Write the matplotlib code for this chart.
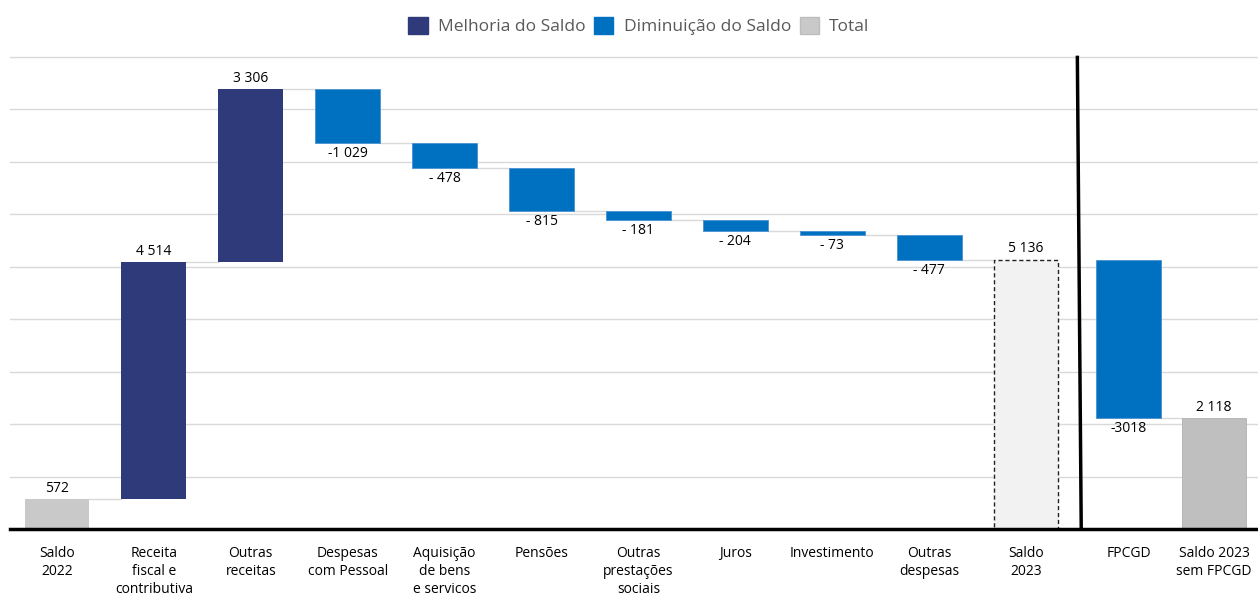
import numpy as np
import matplotlib.pyplot as plt
from matplotlib.patches import Patch

plt.rcParams['font.family'] = ['Open Sans', 'DejaVu Sans']

categories = ["Saldo\n2022", "Receita\nfiscal e\ncontributiva", "Outras\nreceitas",
              "Despesas\ncom Pessoal", "Aquisição\nde bens\ne servicos", "Pensões",
              "Outras\nprestações\nsociais", "Juros", "Investimento", "Outras\ndespesas",
              "Saldo\n2023", "FPCGD", "Saldo 2023\nsem FPCGD"]
values = [572, 4514, 3306, -1029, -478, -815, -181, -204, -73, -477, 5136, -3018, 2118]
kinds = ['total', 'inc', 'inc', 'dec', 'dec', 'dec', 'dec', 'dec', 'dec', 'dec',
         'total', 'dec', 'total']
value_labels = ["572", "4 514", "3 306", "-1 029", "- 478", "- 815", "- 181", "- 204",
                "- 73", "- 477", "5 136", "-3018", "2 118"]

# x positions (the last two sit a bit apart after the separator line)
xpos = list(np.arange(11)) + [11.06, 11.94]

navy = '#2e3a7a'
blue = '#0070c0'
gray = '#c9c9c9'

fig = plt.figure(figsize=(12.58, 5.99), dpi=100)
ax = fig.add_axes([10/1258, 1-529/599, 1-10/1258, (529-49)/599])

running = 0
prev_end = None
for i, (v, k) in enumerate(zip(values, kinds)):
    x = xpos[i]
    if k == 'total':
        bottom, h = 0, v
        running = v
    elif v >= 0:
        bottom, h = running, v
        running += v
    else:
        bottom, h = running + v, -v
        running += v

    if k == 'inc':
        ax.bar(x, h, bottom=bottom, width=0.67, color=navy, zorder=3)
    elif k == 'dec':
        ax.bar(x, h, bottom=bottom, width=0.67, color=blue, edgecolor='#4a90d0',
               linewidth=0.6, zorder=3)
    else:
        if i == 10:
            ax.bar(x, h, bottom=bottom, width=0.67, color='#f2f2f2', edgecolor='#222222',
                   linestyle=(0, (3, 2)), linewidth=1.0, zorder=3)
        elif i == 12:
            ax.bar(x, h, bottom=bottom, width=0.67, color='#bfbfbf', edgecolor='#b0b0b0',
                   linewidth=0.6, zorder=3)
        else:
            ax.bar(x, h, bottom=bottom, width=0.67, color=gray, zorder=3)

    # label
    if v >= 0:
        ax.text(x, bottom + h + 60, value_labels[i], ha='center', va='bottom', fontsize=10)
    else:
        ax.text(x, bottom - 60, value_labels[i], ha='center', va='top', fontsize=10)

    # connector from previous bar
    if prev_end is not None and i != 11:
        ax.plot([xpos[i-1] + 0.335, x - 0.335], [prev_end, prev_end],
                color='#d9d9d9', lw=1, zorder=2)
    prev_end = running

# gridlines
for g in range(1000, 10000, 1000):
    ax.axhline(g, color='#d9d9d9', lw=1, zorder=1)

# separator line
ax.plot([10.53, 10.57], [8990, 0], color='black', lw=2.5, zorder=4)

ax.set_xlim((10-57)/96.9, (1258-57)/96.9)
ax.set_ylim(0, 9150)
ax.set_yticks([])
for s in ['top', 'right', 'left']:
    ax.spines[s].set_visible(False)
ax.spines['bottom'].set_linewidth(2.5)
ax.spines['bottom'].set_zorder(5)
ax.set_xticks(xpos)
ax.set_xticklabels(categories, fontsize=10, linespacing=1.3, va='top')
ax.tick_params(axis='x', length=0, pad=12)

handles = [Patch(facecolor=navy, edgecolor=navy),
           Patch(facecolor=blue, edgecolor=blue),
           Patch(facecolor=gray, edgecolor='#bdbdbd')]
fig.legend(handles, ['Melhoria do Saldo', 'Diminuição do Saldo', 'Total'],
           loc='center', bbox_to_anchor=(0.508, 0.956), ncol=3, frameon=False,
           fontsize=12.5, labelcolor='#595959', handlelength=1.1, handleheight=1.1,
           handletextpad=0.6, columnspacing=0.5)

fig.savefig('out.png', dpi=100)
